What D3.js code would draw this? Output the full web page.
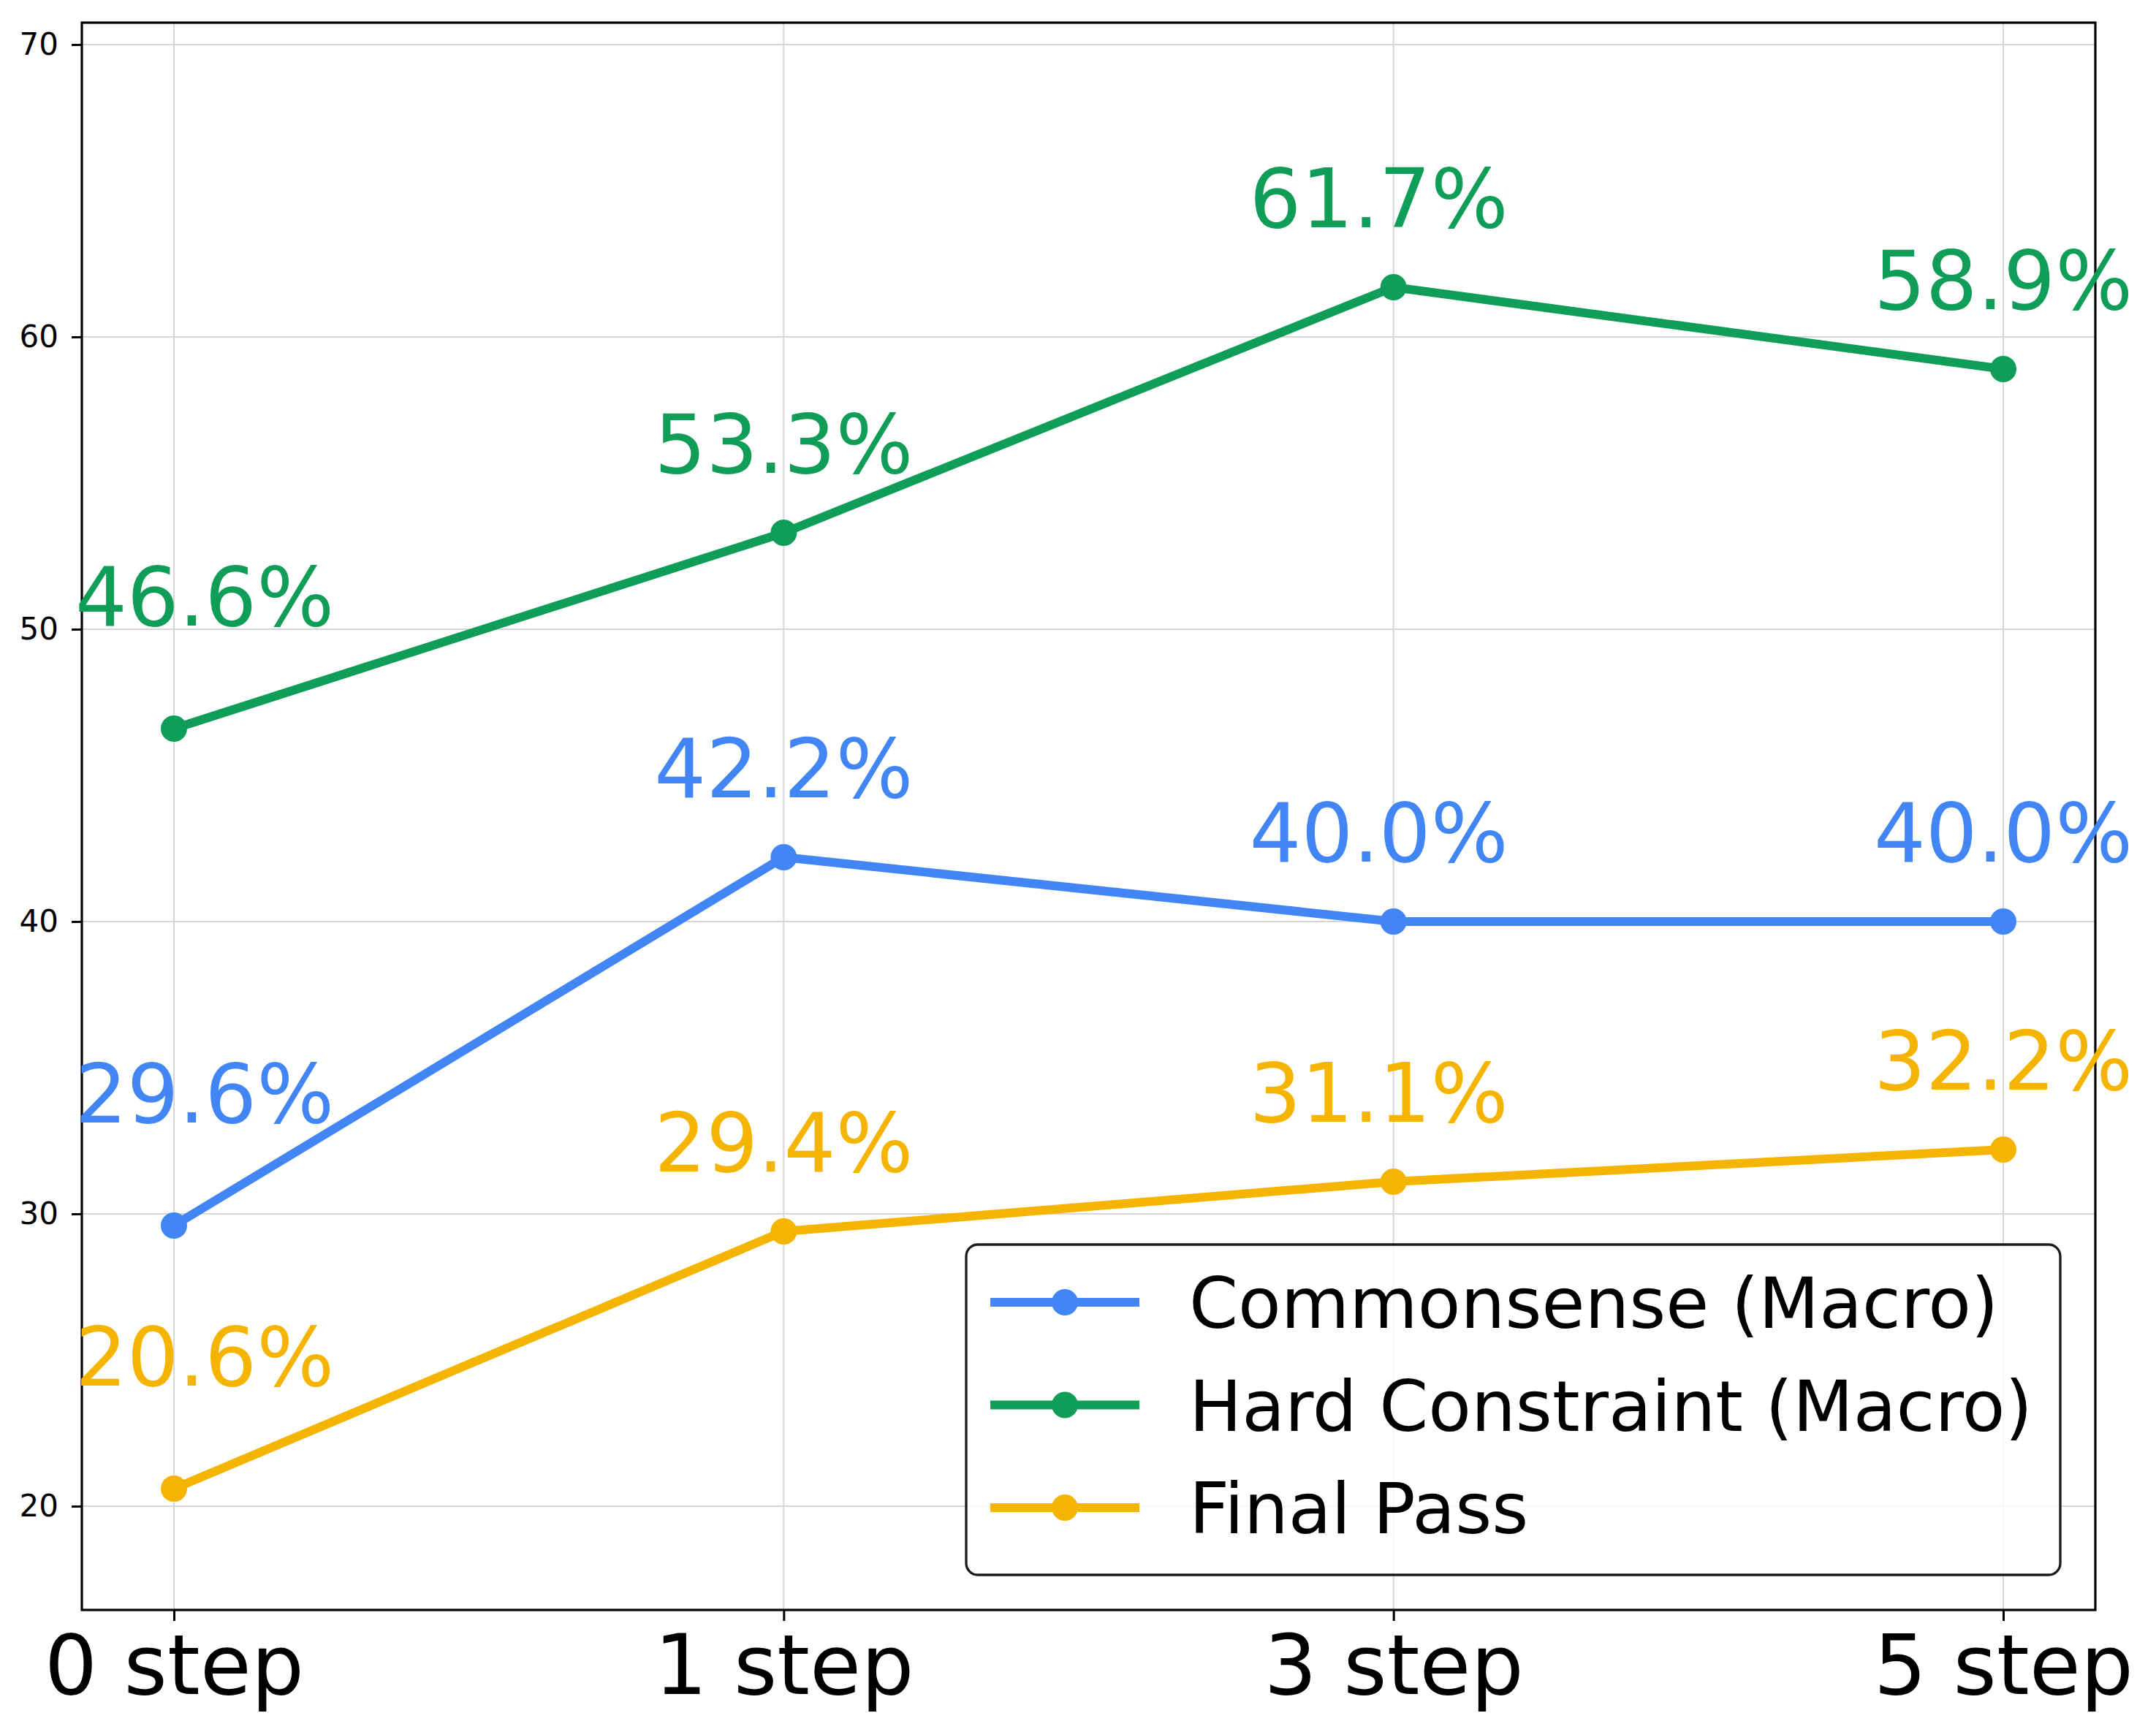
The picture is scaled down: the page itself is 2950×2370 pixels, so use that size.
<!DOCTYPE html>
<html>
<head>
<meta charset="utf-8">
<script src="https://cdn.jsdelivr.net/npm/d3@7"></script>
<style>
  body { margin: 0; background: #fff; }
  svg text { font-family: "DejaVu Sans", sans-serif; }
</style>
</head>
<body>
<svg id="chart" width="2950" height="2370"></svg>
<script>
// data
const steps = ["0 step", "1 step", "3 step", "5 step"]
const seriesNames = ["Commonsense (Macro)", "Hard Constraint (Macro)", "Final Pass"]
const commonsense = [29.6, 42.2, 40.0, 40.0]
const hardConstraint = [46.6, 53.3, 61.7, 58.9]
const finalPass = [20.6, 29.4, 31.1, 32.2]
const yTicks = [20, 30, 40, 50, 60, 70]

const colors = ["#4285F4", "#0F9D58", "#F4B400"]

// label nudges per step (pixels), first point sits lower + to the right
const labelDx = [42, 0, -20, 0]
const labelDy = [141, 82, 82, 82]

const series = [commonsense, hardConstraint, finalPass].map((values, i) => ({
  name: seriesNames[i],
  color: colors[i],
  values: values.map((v, j) => ({step: steps[j], value: v, idx: j}))
}))

const plot = {left: 112, right: 2867, top: 31, bottom: 2203}
const svg = d3.select("#chart")

const x = d3.scalePoint().domain(steps).range([plot.left, plot.right]).padding(0.151)
const y = d3.scaleLinear().domain([16.45, 70.75]).range([plot.bottom, plot.top])

// grid
const grid = svg.append("g")
grid.selectAll("line.hgrid").data(yTicks).join("line")
  .attr("class", "hgrid")
  .attr("x1", plot.left).attr("x2", plot.right)
  .attr("y1", d => y(d)).attr("y2", d => y(d))
  .attr("stroke", "#d6d6d6").attr("stroke-width", 2)
grid.selectAll("line.vgrid").data(steps).join("line")
  .attr("class", "vgrid")
  .attr("x1", d => x(d)).attr("x2", d => x(d))
  .attr("y1", plot.top).attr("y2", plot.bottom)
  .attr("stroke", "#d6d6d6").attr("stroke-width", 2)

// axes
const yAxis = svg.append("g")
  .attr("transform", `translate(${plot.left},0)`)
  .call(d3.axisLeft(y).tickValues(yTicks).tickSize(14).tickPadding(18).tickFormat(d3.format("d")))
yAxis.select(".domain").remove()
yAxis.selectAll(".tick line").attr("stroke", "#000").attr("stroke-width", 3)
yAxis.selectAll(".tick text")
  .attr("font-size", 42).attr("fill", "#000")
  .attr("font-family", "DejaVu Sans")

const xAxis = svg.append("g")
  .attr("transform", `translate(0,${plot.bottom})`)
  .call(d3.axisBottom(x).tickSize(15).tickPadding(0))
xAxis.select(".domain").remove()
xAxis.selectAll(".tick line").attr("stroke", "#000").attr("stroke-width", 3)
xAxis.selectAll(".tick text")
  .attr("font-size", 114).attr("fill", "#000")
  .attr("font-family", "DejaVu Sans")
  .attr("dy", null).attr("y", 115)

// frame
svg.append("rect")
  .attr("x", plot.left).attr("y", plot.top)
  .attr("width", plot.right - plot.left).attr("height", plot.bottom - plot.top)
  .attr("fill", "none").attr("stroke", "#000").attr("stroke-width", 3.2)

// lines + markers
const line = d3.line().x(d => x(d.step)).y(d => y(d.value))
const seriesG = svg.append("g").selectAll("g").data(series).join("g")
seriesG.append("path")
  .attr("d", d => line(d.values))
  .attr("fill", "none")
  .attr("stroke", d => d.color)
  .attr("stroke-width", 12)
  .attr("stroke-linejoin", "round")
seriesG.selectAll("circle").data(d => d.values.map(v => ({...v, color: d.color}))).join("circle")
  .attr("cx", d => x(d.step)).attr("cy", d => y(d.value))
  .attr("r", 18)
  .attr("fill", d => d.color)

// value labels
seriesG.selectAll("text").data(d => d.values.map(v => ({...v, color: d.color}))).join("text")
  .attr("x", d => x(d.step) + labelDx[d.idx])
  .attr("y", d => y(d.value) - labelDy[d.idx])
  .attr("text-anchor", "middle")
  .attr("font-size", 111.5)
  .attr("fill", d => d.color)
  .text(d => d.value.toFixed(1) + "%")

// legend
const legend = svg.append("g")
legend.append("rect")
  .attr("x", 1322).attr("y", 1703)
  .attr("width", 2819 - 1322).attr("height", 2155 - 1703)
  .attr("rx", 16)
  .attr("fill", "#fff").attr("fill-opacity", 0.8)
  .attr("stroke", "#1a1a1a").attr("stroke-width", 3.3)
const rowY = d3.scalePoint().domain(seriesNames).range([1782, 2063])
const items = legend.selectAll("g.item").data(series).join("g").attr("class", "item")
  .attr("transform", d => `translate(0,${rowY(d.name)})`)
items.append("line")
  .attr("x1", 1355).attr("x2", 1559)
  .attr("stroke", d => d.color).attr("stroke-width", 12)
items.append("circle")
  .attr("cx", 1457).attr("r", 18)
  .attr("fill", d => d.color)
items.append("text")
  .attr("x", 1627).attr("y", 35)
  .attr("font-size", 96)
  .attr("fill", "#000")
  .text(d => d.name)
</script>
</body>
</html>
